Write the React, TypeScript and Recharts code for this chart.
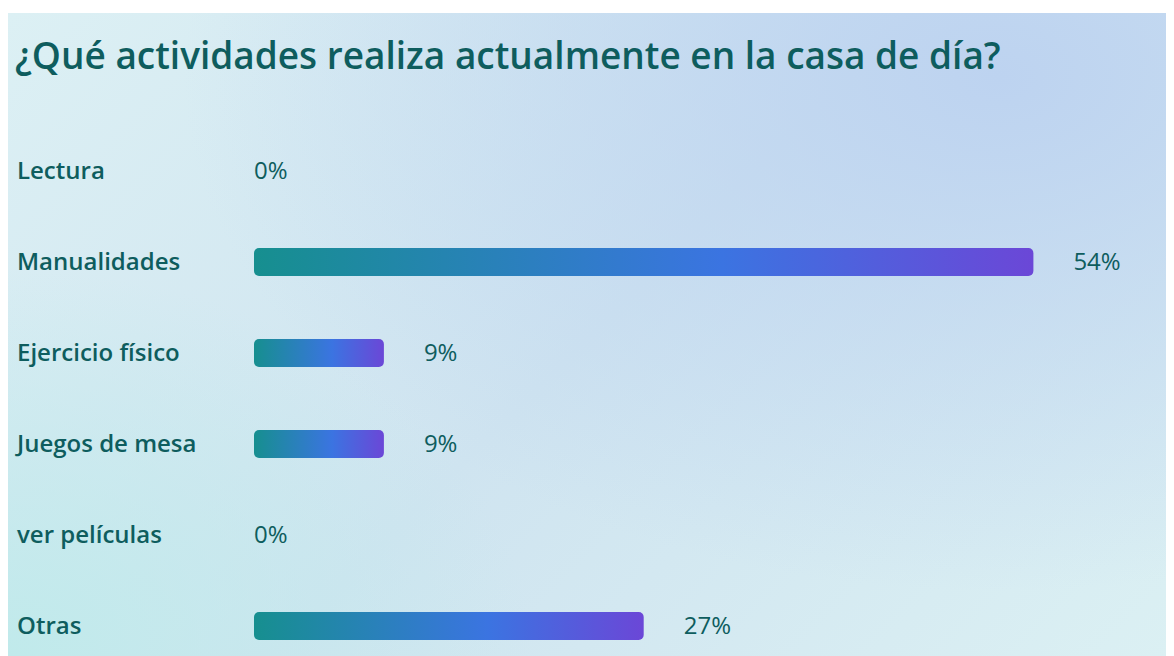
import React from "react";
import { BarChart, Bar, XAxis, YAxis, LabelList, Rectangle } from "recharts";

const categories = ["Lectura", "Manualidades", "Ejercicio físico", "Juegos de mesa", "ver películas", "Otras"];
const percentValues = [0, 54, 9, 9, 0, 27];
const valueLabels = ["0%", "54%", "9%", "9%", "0%", "27%"];
const title = "¿Qué actividades realiza actualmente en la casa de día?";

const data = categories.map((name, i) => ({ name, value: percentValues[i], label: valueLabels[i] }));

const TEXT = "#0e5d5e";
const FONT = "'Open Sans', 'Noto Sans', sans-serif";

const CategoryTick = (props: any) => {
  const { y, payload } = props;
  return (
    <text x={9} y={y} dy={8} textAnchor="start" fill={TEXT} fontSize={24} fontWeight={600} fontFamily={FONT}>
      {payload.value}
    </text>
  );
};

const BarShape = (props: any) => {
  const { payload } = props;
  if (!payload || payload.value <= 0) return <g />;
  return <Rectangle {...props} />;
};

const ValueLabel = (props: any) => {
  const { x, y, width, height, value } = props;
  const num = parseFloat(String(value));
  const lx = num > 0 ? x + width + 40 : x;
  return (
    <text x={lx} y={y + height / 2} dy={8} textAnchor="start" fill={TEXT} fontSize={24} fontWeight={500} fontFamily={FONT}>
      {value}
    </text>
  );
};

export default function App() {
  return (
    <div
      style={{
        position: "relative",
        width: 1166,
        height: 643,
        marginTop: 5,
        overflow: "hidden",
        background:
          "radial-gradient(ellipse 70% 80% at 85% 10%, #bdd3f0 0%, rgba(189,211,240,0) 100%), radial-gradient(ellipse 45% 60% at 0% 100%, #c0eaeb 0%, rgba(192,234,235,0) 100%), linear-gradient(135deg, #dcf0f4 0%, #cfe4f0 50%, #dbf0f3 100%)",
      }}
    >
      <div
        style={{
          position: "absolute",
          left: 7,
          top: 19,
          fontFamily: FONT,
          fontSize: 37,
          fontWeight: 600,
          color: TEXT,
          whiteSpace: "nowrap",
          lineHeight: "46px",
        }}
      >
        {title}
      </div>
      <div style={{ position: "absolute", left: 0, top: 0 }}>
        <BarChart
          width={1166}
          height={660}
          data={data}
          layout="vertical"
          margin={{ top: 112, right: 54, bottom: 2, left: 0 }}
          barCategoryGap={0}
        >
          <defs>
            <linearGradient id="barGrad" x1="0" y1="0" x2="1" y2="0">
              <stop offset="0%" stopColor="#168f8f" />
              <stop offset="60%" stopColor="#3b74e1" />
              <stop offset="100%" stopColor="#6b47d7" />
            </linearGradient>
          </defs>
          <XAxis type="number" domain={[0, 60]} hide />
          <YAxis
            type="category"
            dataKey="name"
            width={246}
            axisLine={false}
            tickLine={false}
            tick={<CategoryTick />}
            interval={0}
          />
          <Bar
            dataKey="value"
            fill="url(#barGrad)"
            barSize={28}
            radius={5}
            minPointSize={1}
            shape={<BarShape />}
            isAnimationActive={false}
          >
            <LabelList dataKey="label" content={<ValueLabel />} />
          </Bar>
        </BarChart>
      </div>
    </div>
  );
}
